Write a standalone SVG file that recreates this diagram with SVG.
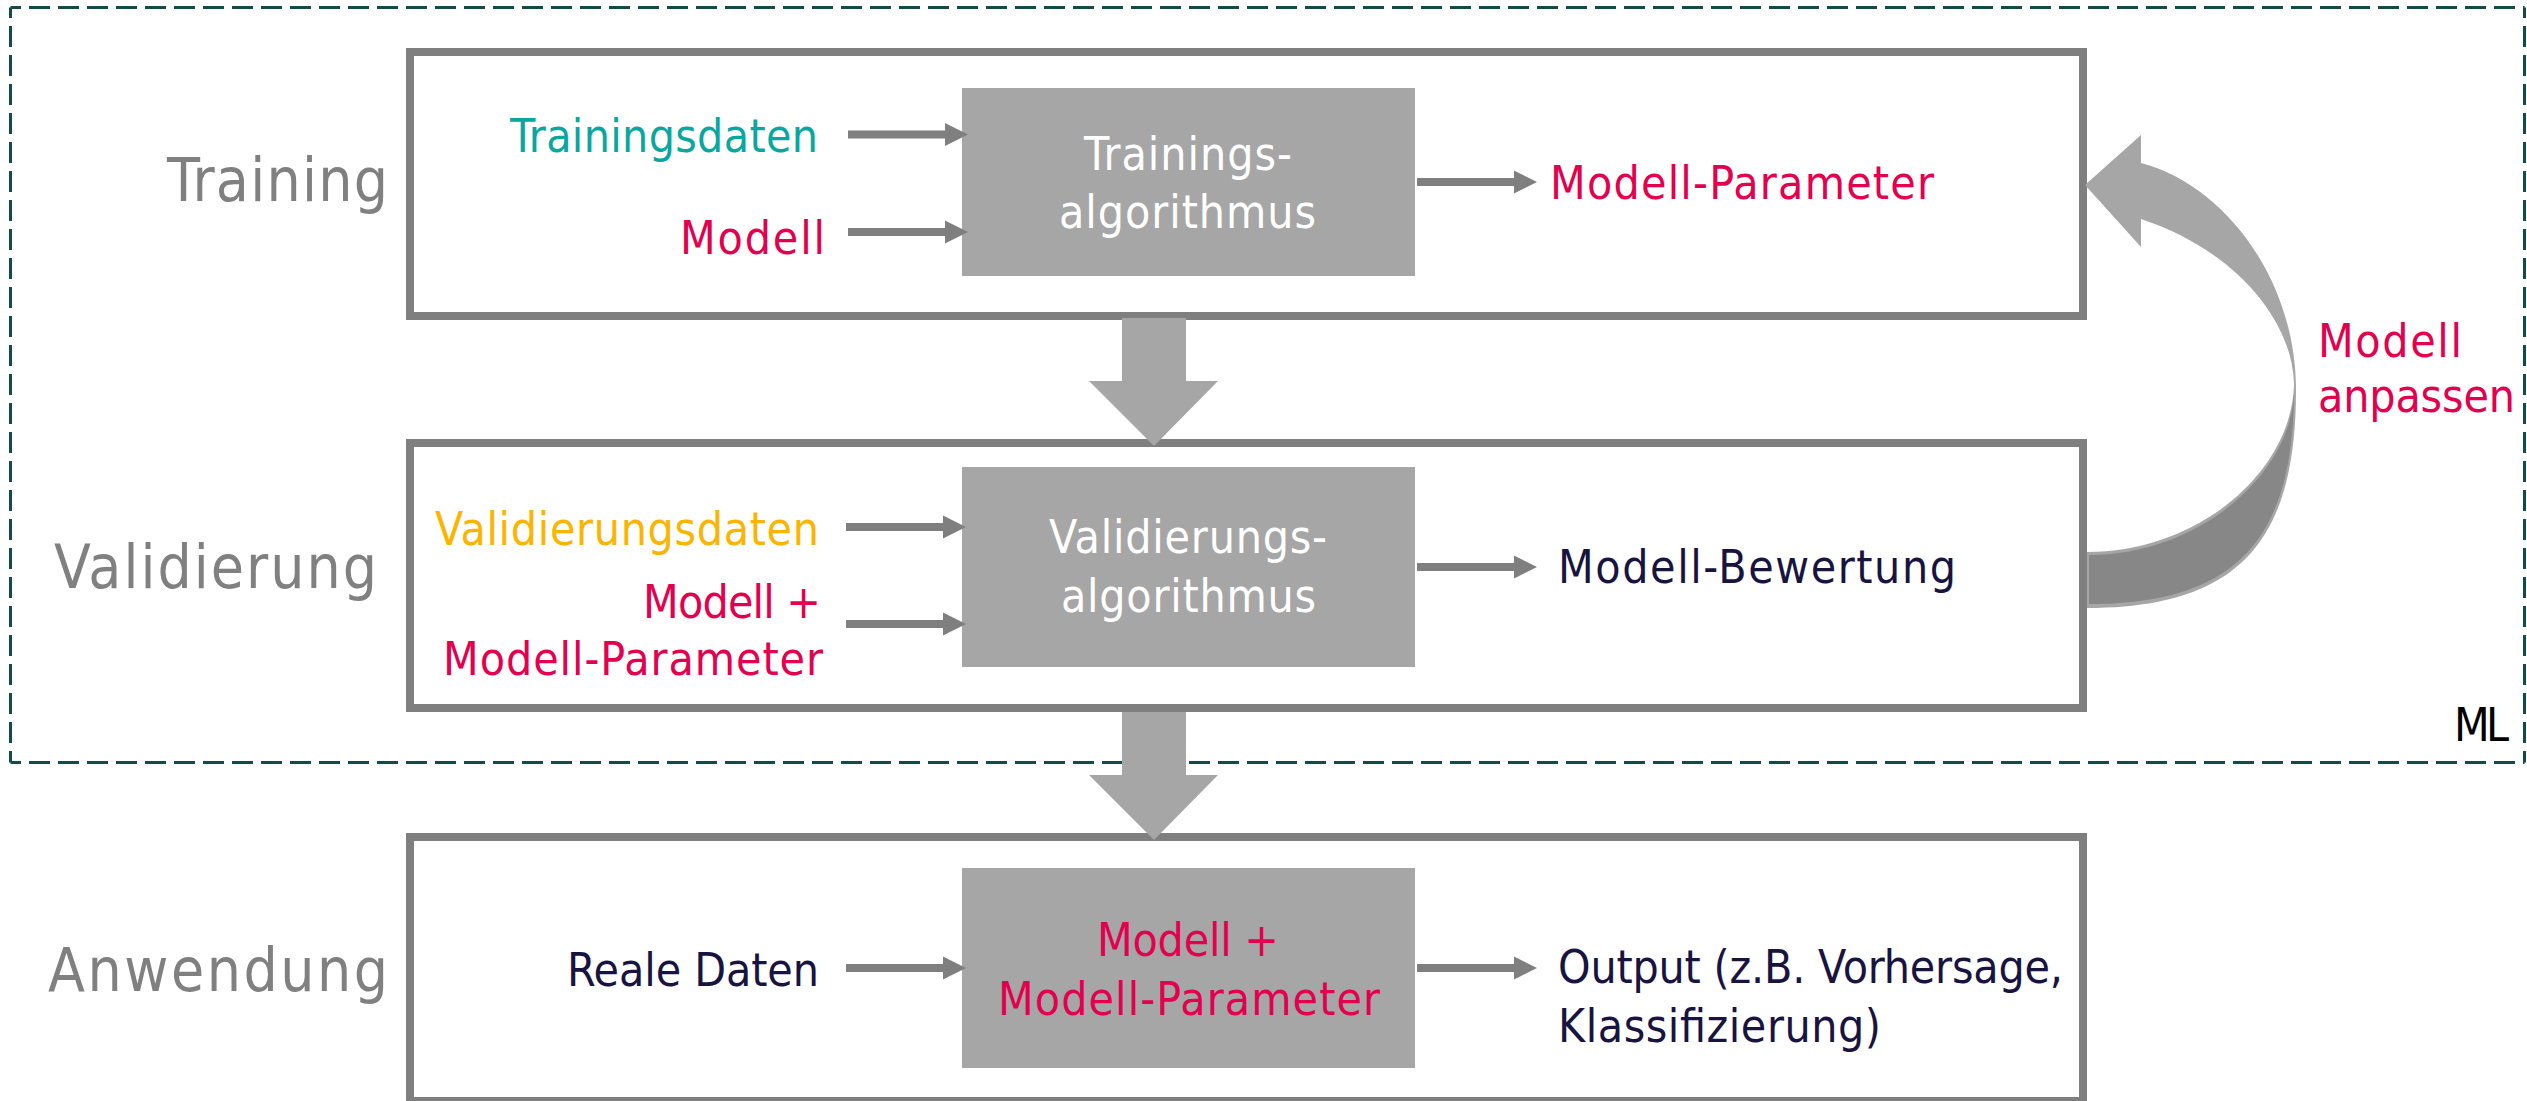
<svg xmlns="http://www.w3.org/2000/svg" xmlns:xlink="http://www.w3.org/1999/xlink" width="2527" height="1101" viewBox="0 0 2527 1101">
  <style>
    text { font-family: 'DejaVu Sans Condensed', 'DejaVu Sans', sans-serif; font-stretch: condensed; }
    .stage { font-size: 60px; fill: #808080; }
    .t { font-size: 46px; }
    .w { fill: #ffffff; }
    .red { fill: #e2004f; }
    .teal { fill: #0aa6a0; }
    .orange { fill: #fdb400; }
    .navy { fill: #18143f; }
    .frame { fill: #ffffff; stroke: #7f7f7f; stroke-width: 8; }
    .proc { fill: #a6a6a6; }
    .ml { fill: none; stroke: #124c48; stroke-width: 3; stroke-dasharray: 21 8; stroke-dashoffset: 10.5; }
    .sa { fill: #7f7f7f; }
    .ba { fill: #a6a6a6; }
  </style>
  <defs>
    <!-- small horizontal arrow, origin at tail centre -->
    <path id="sarrow" d="M0,-4 H97 V-11.5 L120,0 L97,11.5 V4 H0 Z"/>
    <!-- broad downward block arrow, origin at top of shaft centre -->
    <path id="barrow" d="M-32,0 H32 V63 H64 L0,128 L-65,63 H-32 Z"/>
  </defs>

  <rect width="2527" height="1101" fill="#ffffff"/>

  <!-- ML boundary (dashed) -->
  <g id="ml-boundary">
    <line class="ml" x1="10.5" y1="7.5" x2="2524.5" y2="7.5"/>
    <line class="ml" x1="10.5" y1="7.5" x2="10.5" y2="762.5"/>
    <line class="ml" x1="10.5" y1="762.5" x2="2524.5" y2="762.5"/>
    <line class="ml" x1="2524.5" y1="7.5" x2="2524.5" y2="762.5"/>
    <text class="t" x="2454" y="741" fill="#000000" textLength="55">ML</text>
  </g>

  <!-- Training stage -->
  <g id="stage-training">
    <rect class="frame" x="410" y="52" width="1673" height="264"/>
    <text class="stage" x="167" y="201" textLength="221">Training</text>
  </g>
  <g id="training-data">
    <text class="t teal" x="510" y="152" textLength="308">Trainingsdaten</text>
  </g>
  <g id="training-model">
    <text class="t red" x="680" y="254" textLength="145">Modell</text>
  </g>
  <g id="training-algorithm">
    <rect class="proc" x="962" y="88" width="453" height="188"/>
    <text class="t w" x="1084" y="170" textLength="208">Trainings-</text>
    <text class="t w" x="1059" y="228" textLength="257">algorithmus</text>
  </g>
  <g id="training-output">
    <text class="t red" x="1550" y="199" textLength="384">Modell-Parameter</text>
  </g>

  <!-- Validation stage -->
  <g id="stage-validation">
    <rect class="frame" x="410" y="443" width="1673" height="265"/>
    <text class="stage" x="54" y="588" textLength="323">Validierung</text>
  </g>
  <g id="validation-data">
    <text class="t orange" x="435" y="545" textLength="384">Validierungsdaten</text>
  </g>
  <g id="validation-model">
    <text class="t red" x="643" y="618" textLength="178">Modell +</text>
    <text class="t red" x="443" y="675" textLength="380">Modell-Parameter</text>
  </g>
  <g id="validation-algorithm">
    <rect class="proc" x="962" y="467" width="453" height="200"/>
    <text class="t w" x="1049" y="553" textLength="278">Validierungs-</text>
    <text class="t w" x="1061" y="612" textLength="255">algorithmus</text>
  </g>
  <g id="validation-output">
    <text class="t navy" x="1558" y="583" textLength="398">Modell-Bewertung</text>
  </g>
  <g id="adjust-label">
    <text class="t red" x="2318" y="357" textLength="144">Modell</text>
    <text class="t red" x="2318" y="412" textLength="197">anpassen</text>
  </g>

  <!-- Application stage -->
  <g id="stage-application">
    <rect class="frame" x="410" y="837" width="1673" height="264"/>
    <text class="stage" x="48" y="991" textLength="340">Anwendung</text>
  </g>
  <g id="real-data">
    <text class="t navy" x="567" y="986" textLength="252">Reale Daten</text>
  </g>
  <g id="application-model">
    <rect class="proc" x="962" y="868" width="453" height="200"/>
    <text class="t red" x="1097" y="956" textLength="182">Modell +</text>
    <text class="t red" x="998" y="1015" textLength="382">Modell-Parameter</text>
  </g>
  <g id="application-output">
    <text class="t navy" x="1558" y="983" textLength="505">Output (z.B. Vorhersage,</text>
    <text class="t navy" x="1558" y="1042" textLength="323">Klassifizierung)</text>
  </g>

  <!-- Connectors -->
  <g id="connectors">
    <use class="sa" href="#sarrow" x="848" y="134.5"/>
    <use class="sa" href="#sarrow" x="848" y="232"/>
    <use class="sa" href="#sarrow" x="1417" y="182"/>
    <use class="sa" href="#sarrow" x="846" y="527"/>
    <use class="sa" href="#sarrow" x="846" y="624"/>
    <use class="sa" href="#sarrow" x="1417" y="567"/>
    <use class="sa" href="#sarrow" x="846" y="968"/>
    <use class="sa" href="#sarrow" x="1417" y="968"/>

    <use class="ba" href="#barrow" x="1154" y="318"/>
    <use class="ba" href="#barrow" x="1154" y="712"/>

    <!-- curved feedback arrow: validation back to training -->
    <path fill="#a6a6a6" d="M2141,163 C2225,185 2296,280 2296,390 C2296,540 2240,608 2087,608 L2087,552 C2200,552 2293,470 2294,383 C2292,320 2235,250 2141,219 L2141,247 L2085,185 L2141,135 Z"/>
    <path fill="#878787" d="M2089,555 C2200,555 2292,473 2294,392 C2293,538 2238,604 2089,604 Z"/>
  </g>
</svg>
